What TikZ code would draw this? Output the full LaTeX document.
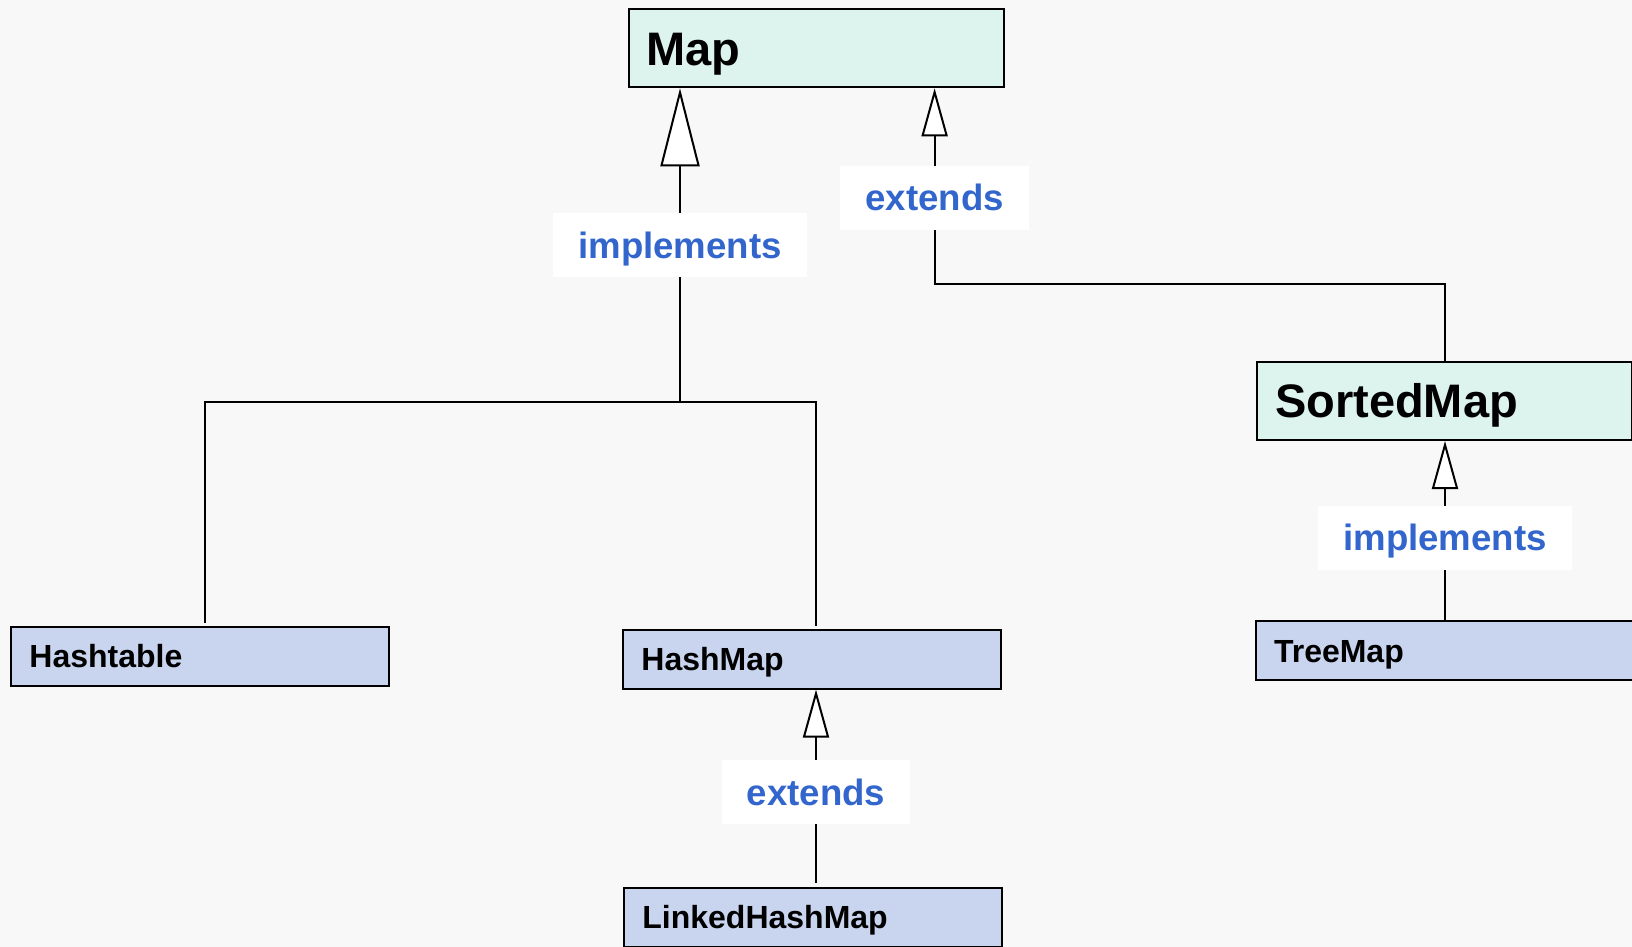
\documentclass[tikz,border=0pt]{standalone}
\usepackage{fontspec}
\setmainfont{Liberation Sans}
\usepackage{tikz}
\usetikzlibrary{arrows.meta}
\definecolor{ifacefill}{HTML}{DDF3EE}
\definecolor{classfill}{HTML}{C9D5EF}
\definecolor{relblue}{HTML}{3366CC}
\definecolor{paper}{HTML}{F8F8F8}
\tikzset{
iface/.style={draw, fill=ifacefill, anchor=north west, line width=1pt, inner xsep=9pt, text width=169.5pt, align=left, minimum height=39pt, text height=16.8pt, text depth=0pt, font=\bfseries\fontsize{23.5}{26}\selectfont},
klass/.style={draw, fill=classfill, anchor=north west, line width=1pt, inner xsep=9pt, text width=171pt, align=left, minimum height=29.5pt, text height=11.5pt, text depth=0pt, font=\bfseries\fontsize{16}{18}\selectfont},
rel/.style={fill=white, text=relblue, inner xsep=12.5pt, minimum height=32pt, text height=13.1pt, text depth=0pt, font=\bfseries\fontsize{18.3}{20}\selectfont},
link/.style={line width=1pt},
inh/.style={link, -{Triangle[length=24pt, width=13pt, fill=white]}},
inhbig/.style={link, -{Triangle[length=39pt, width=19.5pt, fill=white]}}
}

\begin{document}
\begin{tikzpicture}[x=0.5pt, y=-0.5pt]
	\fill[paper] (0,0) rectangle (1632,947);
	\useasboundingbox (0,0) rectangle (1632,947);
	\node[iface] (map) at (627.6,8.3) {Map};
	\node[iface] (sortedmap) at (1256,361) {SortedMap};
	\node[klass] (hashtable) at (10.4,625.5) {Hashtable};
	\node[klass] (hashmap) at (622.4,628.6) {HashMap};
	\node[klass] (linkedhashmap) at (623.4,886.8) {LinkedHashMap};
	\node[klass] (treemap) at (1255,620) {TreeMap};
	\coordinate (fork) at (680,402);
	\coordinate (bend) at (934.6,284);
	% ----
	\draw[link, shorten <=1.5pt, shorten >=1.5pt] ([xshift=2.4pt]hashtable.north) |- (fork) -| ([xshift=1.8pt]hashmap.north);
	\draw[inhbig] (fork) -- node[rel] {implements} (map.south -| fork);

	\draw[inh] (sortedmap.north) |- (bend) -- node[rel, pos=0.44] {extends} (map.south -| bend);
	\draw[inh] (treemap.north) -- node[rel, pos=0.46] {implements} (treemap.north |- sortedmap.south);

	\draw[inh, shorten <=2pt] ([xshift=1.3pt]linkedhashmap.north) -- node[rel, pos=0.48] {extends} ([xshift=1.3pt]linkedhashmap.north |- hashmap.south);
\end{tikzpicture}
\end{document}
